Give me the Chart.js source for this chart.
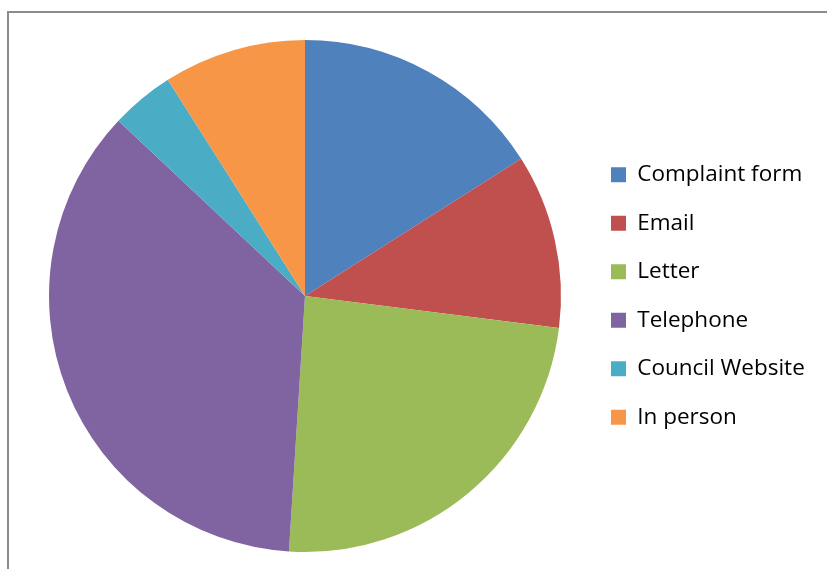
<!DOCTYPE html>
<html>
<head>
<meta charset="utf-8">
<script src="https://cdn.jsdelivr.net/npm/chart.js@4"></script>
<style>
  html, body { margin: 0; padding: 0; background: #fff; overflow: hidden; }
  body { width: 827px; height: 569px; position: relative; }
  #frame {
    position: absolute; left: 7px; top: 11px; width: 900px; height: 700px;
    border-left: 2px solid #8c8c8c; border-top: 2px solid #8c8c8c;
  }
  #wrap { position: absolute; left: 9px; top: 13px; width: 818px; height: 556px; }
</style>
</head>
<body>
<div id="frame"></div>
<div id="wrap"><canvas id="chart"></canvas></div>
<script>
// contact method share (percent)
const categories = ["Complaint form", "Email", "Letter", "Telephone", "Council Website", "In person"];
const values = [16, 11, 24, 36, 4, 9];
const colors = ["#4F81BD", "#C0504D", "#9BBB59", "#8064A2", "#4BACC6", "#F79646"];

const fontSize = 22.5;
const labelPad = 26;
const boxSize = 15;

const ctx = document.getElementById("chart").getContext("2d");
ctx.canvas.width = 818;
ctx.canvas.height = 556;

// work out legend width so the pie lands where it should
ctx.font = fontSize + "px 'Open Sans'";
let textW = 0;
categories.forEach((c) => {
  textW = Math.max(textW, ctx.measureText(c).width);
});
const legendW = labelPad + boxSize + fontSize / 2 + textW + 10;
const legendLeft = 576;
const padRight = Math.max(0, 818 - legendLeft - legendW);

new Chart(ctx, {
  type: "pie",
  data: {
    labels: categories,
    datasets: [
      {
        data: values,
        backgroundColor: colors,
        borderWidth: 0,
      },
    ],
  },
  options: {
    responsive: false,
    animation: false,
    layout: { padding: { left: 16, top: 27, bottom: 17, right: padRight } },
    plugins: {
      tooltip: { enabled: false },
      legend: {
        position: "right",
        labels: {
          boxWidth: boxSize,
          boxHeight: boxSize,
          padding: labelPad,
          color: "#000000",
          font: { family: "'Open Sans'", size: fontSize },
        },
      },
    },
  },
});
</script>
</body>
</html>
